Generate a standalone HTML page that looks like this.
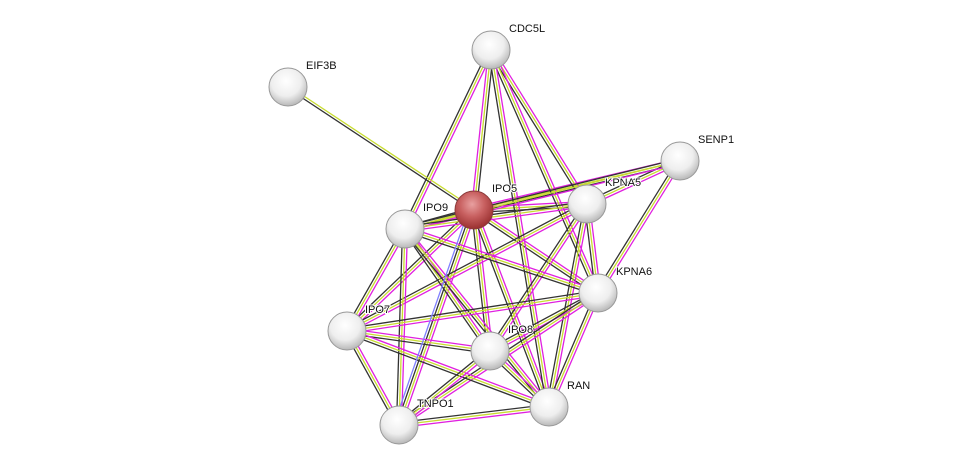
<!DOCTYPE html>
<html><head><meta charset="utf-8">
<style>
html,body{margin:0;padding:0;background:#fff;width:976px;height:471px;overflow:hidden}
text{font-family:"Liberation Sans",sans-serif;font-size:11px;fill:#111;paint-order:stroke;stroke:#fff;stroke-width:2px}
</style></head><body>
<svg id="s" width="976" height="471" xmlns="http://www.w3.org/2000/svg">
<defs>
<radialGradient id="w" cx="45%" cy="35%" r="65%">
<stop offset="0" stop-color="#ffffff"/><stop offset="0.6" stop-color="#eeeeee"/><stop offset="1" stop-color="#b8b8b8"/>
</radialGradient>
<radialGradient id="r" cx="45%" cy="35%" r="65%">
<stop offset="0" stop-color="#e8a0a0"/><stop offset="0.5" stop-color="#c86060"/><stop offset="1" stop-color="#9a3030"/>
</radialGradient>
</defs>
<g id="e"></g><g id="n"></g><g id="t"></g>
</svg>
<script>
var N={CDC5L:[491,50],EIF3B:[288,87],SENP1:[680,161],IPO5:[474,210],KPNA5:[587,204],IPO9:[405,229],KPNA6:[598,293],IPO7:[347,331],IPO8:[490,351],RAN:[549,407],TNPO1:[399,425]};
var E=[["IPO5","CDC5L"],["IPO5","SENP1"],["IPO5","KPNA5"],["IPO5","IPO9"],["IPO5","KPNA6"],["IPO5","IPO7"],["IPO5","IPO8"],["IPO5","RAN"],["IPO5","TNPO1"],
["CDC5L","IPO9"],["CDC5L","KPNA5"],["CDC5L","KPNA6"],["CDC5L","RAN"],
["SENP1","KPNA5"],["SENP1","KPNA6"],["SENP1","IPO9"],
["KPNA5","IPO9"],["KPNA5","IPO7"],["KPNA5","IPO8"],["KPNA5","RAN"],["KPNA5","KPNA6"],
["IPO9","KPNA6"],["IPO9","IPO7"],["IPO9","IPO8"],["IPO9","RAN"],["IPO9","TNPO1"],
["KPNA6","IPO7"],["KPNA6","IPO8"],["KPNA6","RAN"],["KPNA6","TNPO1"],
["IPO7","IPO8"],["IPO7","RAN"],["IPO7","TNPO1"],["IPO8","RAN"],["IPO8","TNPO1"],["RAN","TNPO1"]];
var ns="http://www.w3.org/2000/svg",eg=document.getElementById("e"),ng=document.getElementById("n"),tg=document.getElementById("t");
function line(a,b,o,c,w){var dx=b[0]-a[0],dy=b[1]-a[1],l=Math.hypot(dx,dy),px=-dy/l*o,py=dx/l*o;
var L=document.createElementNS(ns,"line");L.setAttribute("x1",a[0]+px);L.setAttribute("y1",a[1]+py);L.setAttribute("x2",b[0]+px);L.setAttribute("y2",b[1]+py);L.setAttribute("stroke",c);L.setAttribute("stroke-width",w||1.3);eg.appendChild(L);}
E.forEach(function(e){var a=N[e[0]],b=N[e[1]];line(a,b,-2.5,"#e020e0");line(a,b,0,"#c8dc30");line(a,b,2.5,"#333");});
line(N.EIF3B,N.IPO5,-1.2,"#c8dc30");line(N.EIF3B,N.IPO5,1.2,"#333");
line(N.IPO5,N.TNPO1,5,"#8080ff");
for(var k in N){var p=N[k],c=document.createElementNS(ns,"circle");c.setAttribute("cx",p[0]);c.setAttribute("cy",p[1]);c.setAttribute("r",19);
c.setAttribute("fill",k=="IPO5"?"url(#r)":"url(#w)");c.setAttribute("stroke",k=="IPO5"?"#8a3a3a":"#999");c.setAttribute("stroke-width",1);ng.appendChild(c);
var t=document.createElementNS(ns,"text");t.setAttribute("x",p[0]+18);t.setAttribute("y",p[1]-18);t.textContent=k;tg.appendChild(t);}
</script>
</body></html>
